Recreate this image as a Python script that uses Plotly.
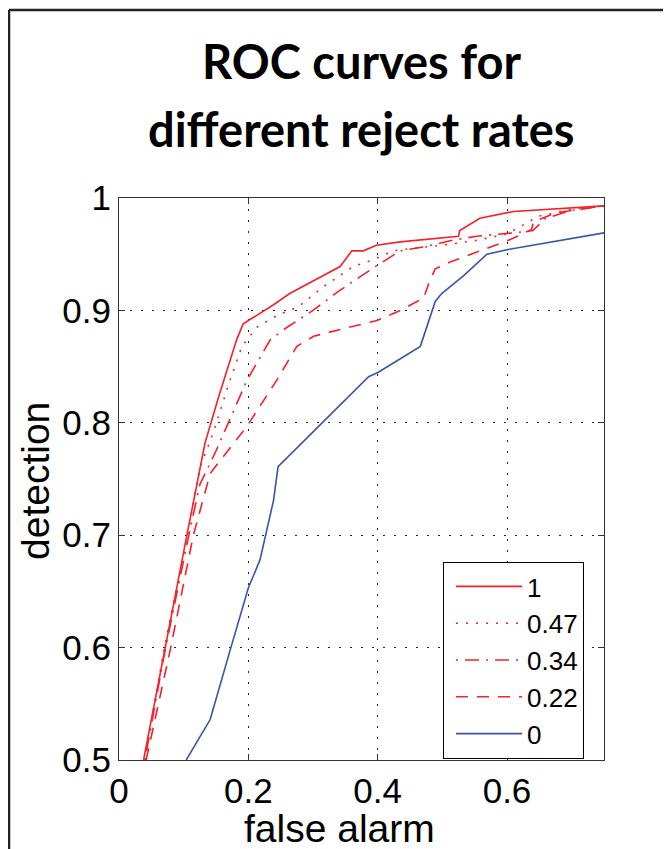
import plotly.graph_objects as go

# ---- data ----
series_names = ["1", "0.47", "0.34", "0.22", "0"]

fa_1 = [0.038, 0.071, 0.105, 0.133, 0.154, 0.182, 0.192, 0.239, 0.264, 0.342, 0.360, 0.378, 0.398, 0.435, 0.525, 0.527, 0.558, 0.610, 0.750]
det_1 = [0.500, 0.600, 0.700, 0.782, 0.823, 0.874, 0.888, 0.905, 0.915, 0.939, 0.953, 0.953, 0.958, 0.961, 0.966, 0.971, 0.982, 0.988, 0.993]

fa_047 = [0.040, 0.070, 0.106, 0.125, 0.145, 0.170, 0.190, 0.213, 0.246, 0.277, 0.316, 0.362, 0.393, 0.424, 0.450, 0.500, 0.550, 0.600, 0.650, 0.700, 0.750]
det_047 = [0.500, 0.600, 0.700, 0.760, 0.790, 0.835, 0.868, 0.885, 0.896, 0.903, 0.921, 0.939, 0.945, 0.953, 0.955, 0.958, 0.962, 0.968, 0.984, 0.990, 0.993]

fa_034 = [0.040, 0.072, 0.108, 0.125, 0.150, 0.198, 0.234, 0.260, 0.300, 0.342, 0.373, 0.399, 0.435, 0.476, 0.512, 0.553, 0.610, 0.640, 0.660, 0.700, 0.750]
det_034 = [0.500, 0.600, 0.700, 0.745, 0.775, 0.838, 0.874, 0.885, 0.900, 0.918, 0.930, 0.940, 0.953, 0.957, 0.962, 0.966, 0.969, 0.971, 0.982, 0.989, 0.993]

fa_022 = [0.042, 0.080, 0.115, 0.141, 0.198, 0.244, 0.275, 0.301, 0.342, 0.399, 0.435, 0.471, 0.481, 0.489, 0.512, 0.553, 0.605, 0.638, 0.641, 0.677, 0.750]
det_022 = [0.500, 0.600, 0.700, 0.755, 0.797, 0.838, 0.868, 0.877, 0.883, 0.891, 0.900, 0.911, 0.927, 0.937, 0.943, 0.952, 0.963, 0.972, 0.979, 0.987, 0.993]

fa_0 = [0.104, 0.141, 0.172, 0.200, 0.218, 0.228, 0.239, 0.246, 0.386, 0.401, 0.435, 0.466, 0.489, 0.499, 0.533, 0.569, 0.600, 0.750]
det_0 = [0.500, 0.536, 0.598, 0.653, 0.678, 0.702, 0.731, 0.761, 0.841, 0.845, 0.857, 0.868, 0.908, 0.915, 0.931, 0.950, 0.954, 0.969]

x_tickvals = [0, 0.2, 0.4, 0.6]
x_ticktext = ["0", "0.2", "0.4", "0.6"]
y_tickvals = [0.5, 0.6, 0.7, 0.8, 0.9, 1.0]
y_ticktext = ["0.5", "0.6", "0.7", "0.8", "0.9", "1"]

title_lines = ["ROC curves for", "different reject rates"]
x_label = "false alarm"
y_label = "detection"

RED = "#f5222a"
BLUE = "#3a54a8"

styles = [
    (fa_1, det_1, RED, "solid"),
    (fa_047, det_047, RED, "2px,8px"),
    (fa_034, det_034, RED, "2px,7px,14px,7px"),
    (fa_022, det_022, RED, "12px,9px"),
    (fa_0, det_0, BLUE, "solid"),
]

# page is offset by the 8px body margin; plot area spans page x 119..604, y 198..760
def px(page_x):
    return (page_x - 119) / 485

def py(page_y):
    return (760 - page_y) / 562

fig = go.Figure()
for name, (xs, ys, col, dash) in zip(series_names, styles):
    fig.add_trace(go.Scatter(
        x=xs, y=ys, mode="lines", name=name,
        line=dict(color=col, width=1.6, dash=dash),
    ))

ARIAL = "Liberation Sans, Arial, sans-serif"
axis_font = dict(family=ARIAL, size=35, color="black")
title_font = dict(family="Lato, sans-serif", size=47, color="black", weight="bold")

annotations = [
    dict(text=title_lines[0], xref="paper", yref="paper", x=0.5, y=py(61),
         xanchor="center", yanchor="middle", showarrow=False, font=title_font),
    dict(text=title_lines[1], xref="paper", yref="paper", x=0.5, y=py(129),
         xanchor="center", yanchor="middle", showarrow=False, font=title_font),
    dict(text=x_label, xref="paper", yref="paper", x=px(339), y=py(828),
         xanchor="center", yanchor="middle", showarrow=False,
         font=dict(family=ARIAL, size=39, color="black")),
    dict(text=y_label, xref="paper", yref="paper", textangle=-90, x=px(35), y=py(481),
         xanchor="center", yanchor="middle", showarrow=False,
         font=dict(family=ARIAL, size=39, color="black")),
]

fig.update_layout(
    width=663, height=841,
    margin=dict(l=111, r=67, t=190, b=89),
    paper_bgcolor="white", plot_bgcolor="white",
    showlegend=True,
    legend=dict(
        x=px(443), y=py(562), xanchor="left", yanchor="top",
        bgcolor="white", bordercolor="black", borderwidth=1,
        font=dict(family=ARIAL, size=26, color="black"),
        itemwidth=66, indentation=7,
    ),
    xaxis=dict(
        range=[0, 0.75], tickvals=x_tickvals, ticktext=x_ticktext,
        showgrid=True, gridcolor="#222222", gridwidth=1, griddash="2px,9px",
        zeroline=False, showline=True, linecolor="#333333", linewidth=1.2,
        mirror="ticks", ticks="inside", ticklen=6, tickcolor="#333333",
        tickfont=axis_font, ticklabelstandoff=0,
    ),
    yaxis=dict(
        range=[0.5, 1.0], tickvals=y_tickvals, ticktext=y_ticktext,
        showgrid=True, gridcolor="#222222", gridwidth=1, griddash="2px,9px",
        zeroline=False, showline=True, linecolor="#333333", linewidth=1.2,
        mirror="ticks", ticks="inside", ticklen=6, tickcolor="#333333",
        tickfont=axis_font, ticklabelstandoff=0,
    ),
    annotations=annotations,
    shapes=[
        dict(type="line", xref="paper", yref="paper",
             x0=px(9), x1=px(671), y0=py(10), y1=py(10),
             line=dict(color="#222222", width=2.5)),
        dict(type="line", xref="paper", yref="paper",
             x0=px(9), x1=px(9), y0=py(10), y1=py(849),
             line=dict(color="#222222", width=2.5)),
    ],
)

fig.write_html("out.html")
